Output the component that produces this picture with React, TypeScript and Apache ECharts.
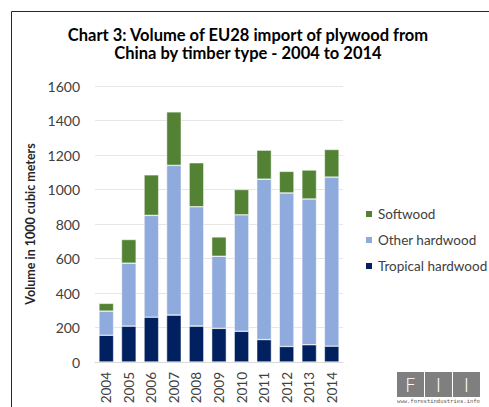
import React, { useEffect, useRef } from "react";
import * as echarts from "echarts";

const years = ["2004", "2005", "2006", "2007", "2008", "2009", "2010", "2011", "2012", "2013", "2014"];
const tropicalHardwood = [155, 208, 260, 272, 208, 195, 178, 130, 90, 100, 92];
const otherHardwood = [140, 365, 590, 868, 692, 418, 675, 930, 890, 845, 980];
const softwood = [45, 137, 235, 310, 255, 112, 147, 168, 125, 168, 160];
const yTicks = { min: 0, max: 1600, interval: 200 };
const titleLines = ["Chart 3: Volume of EU28 import of plywood from", "China by timber type - 2004 to 2014"];
const legendOrder = ["Softwood", "Other hardwood", "Tropical hardwood"];

const FONT = "Lato, 'Noto Sans', sans-serif";

export default function App() {
  const ref = useRef<HTMLDivElement>(null);
  useEffect(() => {
    document.body.style.margin = "0";
    const chart = echarts.init(ref.current!, null, { renderer: "svg" });
    chart.setOption({
      animation: false,
      backgroundColor: "#ffffff",
      textStyle: { fontFamily: FONT },
      grid: { left: 95, right: 146, top: 86, bottom: 45 },
      legend: {
        orient: "vertical",
        left: 364,
        top: 207,
        padding: 0,
        icon: "rect",
        itemWidth: 8,
        itemHeight: 8,
        itemGap: 12,
        data: legendOrder,
        textStyle: { fontSize: 13.5, color: "#404040", fontFamily: FONT },
      },
      xAxis: {
        type: "category",
        data: years,
        axisTick: { show: false },
        axisLine: { lineStyle: { color: "#d9d9d9" } },
        axisLabel: { rotate: 90, fontSize: 13.5, color: "#404040", margin: 10 },
      },
      yAxis: {
        type: "value",
        min: yTicks.min,
        max: yTicks.max,
        interval: yTicks.interval,
        name: "Volume in 1000 cubic meters",
        nameLocation: "middle",
        nameGap: 56,
        nameTextStyle: { fontSize: 12.5, fontWeight: "bold", color: "#262626" },
        axisLine: { show: false },
        axisTick: { show: false },
        splitLine: { lineStyle: { color: "#e6e6e6" } },
        axisLabel: { fontSize: 14, color: "#404040", margin: 15, formatter: (v: number) => String(v) },
      },
      series: [
        { name: "Tropical hardwood", type: "bar", stack: "t", data: tropicalHardwood, barCategoryGap: "35%", itemStyle: { color: "#002060", borderColor: "#ffffff", borderWidth: 0.5 } },
        { name: "Other hardwood", type: "bar", stack: "t", data: otherHardwood, itemStyle: { color: "#8faadc", borderColor: "#ffffff", borderWidth: 0.5 } },
        { name: "Softwood", type: "bar", stack: "t", data: softwood, itemStyle: { color: "#548235", borderColor: "#ffffff", borderWidth: 0.5 } },
      ],
      graphic: [
        { type: "line", shape: { x1: 11.5, y1: 11.5, x2: 489, y2: 11.5 }, style: { stroke: "#262626", lineWidth: 1 } },
        { type: "line", shape: { x1: 11.5, y1: 11.5, x2: 11.5, y2: 407 }, style: { stroke: "#262626", lineWidth: 1 } },
        { type: "text", x: 248, y: 34.5, style: { text: titleLines[0], fontSize: 16.5, lineHeight: 17, fontWeight: "bold", fill: "#000000", textAlign: "center", textVerticalAlign: "middle", fontFamily: FONT } },
        { type: "text", x: 248, y: 53, style: { text: titleLines[1], fontSize: 16.5, lineHeight: 17, fontWeight: "bold", fill: "#000000", textAlign: "center", textVerticalAlign: "middle", fontFamily: FONT } },
        { type: "rect", shape: { x: 397, y: 372, width: 27, height: 25 }, style: { fill: "#7f7f7f" } },
        { type: "rect", shape: { x: 425, y: 372, width: 27, height: 25 }, style: { fill: "#7f7f7f" } },
        { type: "rect", shape: { x: 453, y: 372, width: 27, height: 25 }, style: { fill: "#7f7f7f" } },
        { type: "text", x: 410.5, y: 385, style: { text: "F", fontSize: 20, fill: "#ffffff", textAlign: "center", textVerticalAlign: "middle", fontFamily: "'DejaVu Sans'", fontWeight: "lighter" } },
        { type: "text", x: 438.5, y: 385, style: { text: "I", fontSize: 20, fill: "#ffffff", textAlign: "center", textVerticalAlign: "middle", fontFamily: "'DejaVu Sans'", fontWeight: "lighter" } },
        { type: "text", x: 466.5, y: 385, style: { text: "I", fontSize: 20, fill: "#ffffff", textAlign: "center", textVerticalAlign: "middle", fontFamily: "'DejaVu Sans'", fontWeight: "lighter" } },
        { type: "text", x: 438.5, y: 401, style: { text: "www.forestindustries.info", fontSize: 5.5, fill: "#595959", textAlign: "center", textVerticalAlign: "middle", fontFamily: "'DejaVu Sans Mono'" } },
      ],
    });
    return () => chart.dispose();
  }, []);
  return <div ref={ref} style={{ width: 489, height: 407 }} />;
}
